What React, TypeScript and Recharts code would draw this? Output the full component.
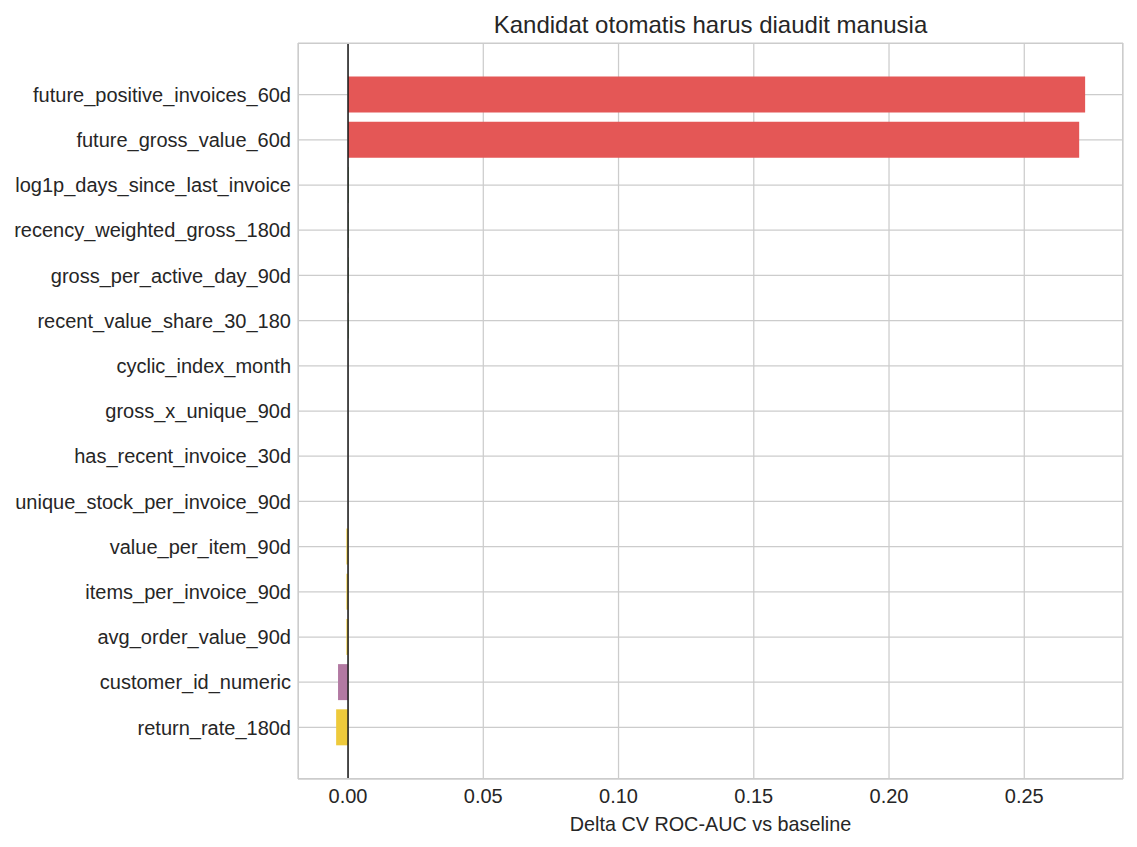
import { BarChart, Bar, XAxis, YAxis, CartesianGrid, ReferenceLine, Cell, Label } from 'recharts';

const features = [
  'future_positive_invoices_60d',
  'future_gross_value_60d',
  'log1p_days_since_last_invoice',
  'recency_weighted_gross_180d',
  'gross_per_active_day_90d',
  'recent_value_share_30_180',
  'cyclic_index_month',
  'gross_x_unique_90d',
  'has_recent_invoice_30d',
  'unique_stock_per_invoice_90d',
  'value_per_item_90d',
  'items_per_invoice_90d',
  'avg_order_value_90d',
  'customer_id_numeric',
  'return_rate_180d',
];

const deltas = [
  0.2725, 0.2703, 0.0002, 0.0002, 0.0002, 0.0002, 0, 0, 0, 0,
  -0.0006, -0.0006, -0.0006, -0.0037, -0.0044,
];

const groups = [
  'leak', 'leak', 'gain', 'gain', 'gain', 'gain', 'neutral', 'neutral', 'neutral', 'neutral',
  'loss', 'loss', 'loss', 'id', 'loss',
];

const xTicks = [0, 0.05, 0.1, 0.15, 0.2, 0.25];
const xDomain: [number, number] = [-0.0185, 0.2865];

const groupColors: Record<string, string> = {
  leak: '#e45756',
  gain: '#54a24b',
  neutral: '#4c78a8',
  loss: '#eeca3b',
  id: '#b279a2',
};

const data = features.map((name, i) => ({ name, delta: deltas[i], group: groups[i] }));

const font = '"Liberation Sans", Arial, sans-serif';
const textStyle = { fontSize: 20, fill: '#262626', fontFamily: font };

// plot box (matches chart margins + axis sizes below)
const plot = { left: 298, top: 43, width: 825, height: 736 };

export default function App() {
  return (
    <div style={{ position: 'relative', width: 1137, height: 847, background: '#fff', fontFamily: font }}>
      <style>{'body { margin: 0; }'}</style>
      <div
        style={{
          position: 'absolute',
          left: plot.left,
          width: plot.width,
          top: 12,
          textAlign: 'center',
          fontSize: 24,
          lineHeight: '26px',
          color: '#262626',
        }}
      >
        Kandidat otomatis harus diaudit manusia
      </div>
      <BarChart
        width={1137}
        height={847}
        data={data}
        layout="vertical"
        margin={{ top: 43, right: 14, bottom: 0, left: 0 }}
        barCategoryGap="10%"
      >
        <CartesianGrid stroke="#cccccc" strokeWidth={1.25} />
        <XAxis
          type="number"
          dataKey="delta"
          domain={xDomain}
          ticks={xTicks}
          allowDataOverflow
          height={68}
          tickLine={false}
          axisLine={false}
          tickSize={0}
          tickMargin={10}
          tickFormatter={(v: number) => v.toFixed(2)}
          tick={textStyle}
        >
          <Label
            value="Delta CV ROC-AUC vs baseline"
            position="insideBottom"
            offset={16}
            style={{ ...textStyle, fontSize: 19.8 }}
          />
        </XAxis>
        <YAxis
          type="category"
          dataKey="name"
          width={298}
          padding={{ top: 29, bottom: 29 }}
          tickLine={false}
          axisLine={false}
          tickSize={0}
          tickMargin={7}
          interval={0}
          tick={textStyle}
        />
        <Bar dataKey="delta" isAnimationActive={false}>
          {data.map((d) => (
            <Cell key={d.name} fill={groupColors[d.group]} />
          ))}
        </Bar>
        <ReferenceLine x={0} stroke="#1a1a1a" strokeWidth={1.5} />
      </BarChart>
      <div
        style={{
          position: 'absolute',
          left: plot.left - 0.5,
          top: plot.top - 0.5,
          width: plot.width,
          height: plot.height,
          border: '1.25px solid #cccccc',
          boxSizing: 'border-box',
          pointerEvents: 'none',
        }}
      />
    </div>
  );
}
